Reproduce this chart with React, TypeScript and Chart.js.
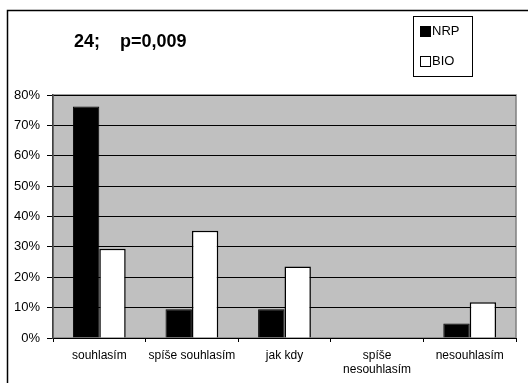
import React, { useEffect, useRef } from "react";
import { Chart, registerables } from "chart.js";

Chart.register(...registerables);

const categories: (string | string[])[] = ["souhlasím", "spíše souhlasím", "jak kdy", ["spíše", "nesouhlasím"], "nesouhlasím"];
const nrpValues = [0.762, 0.095, 0.095, 0, 0.048];
const bioValues = [0.294, 0.353, 0.235, 0, 0.118];
const seriesNames = ["NRP", "BIO"];
const titleText = "24;    p=0,009";

const FONT = "'Liberation Sans', Arial, sans-serif";

const decorPlugin = {
  id: "decor",
  beforeDraw(chart: any) {
    const { ctx, chartArea } = chart;
    ctx.save();
    ctx.fillStyle = "#ffffff";
    ctx.fillRect(0, 0, chart.width, chart.height);
    ctx.fillStyle = "#c0c0c0";
    ctx.fillRect(chartArea.left, chartArea.top, chartArea.right - chartArea.left, chartArea.bottom - chartArea.top);
    ctx.strokeStyle = "#808080";
    ctx.lineWidth = 1.5;
    ctx.strokeRect(chartArea.left, chartArea.top, chartArea.right - chartArea.left, chartArea.bottom - chartArea.top);
    // outer frame
    ctx.strokeStyle = "#000000";
    ctx.lineWidth = 1.5;
    ctx.beginPath();
    ctx.moveTo(7.5, chart.height + 2);
    ctx.lineTo(7.5, 10.5);
    ctx.lineTo(chart.width + 2, 10.5);
    ctx.stroke();
    ctx.restore();
  },
  afterDraw(chart: any) {
    const { ctx } = chart;
    ctx.save();
    // title
    ctx.fillStyle = "#000";
    ctx.font = `bold 18px ${FONT}`;
    ctx.textBaseline = "middle";
    ctx.textAlign = "left";
    ctx.fillText(titleText, 74, 42);
    // legend box
    ctx.strokeStyle = "#000";
    ctx.lineWidth = 1;
    ctx.strokeRect(413.5, 16.5, 59, 60);
    ctx.font = `13px ${FONT}`;
    const items = [
      { name: seriesNames[0], fill: "#000000", y: 31 },
      { name: seriesNames[1], fill: "#ffffff", y: 61 },
    ];
    for (const it of items) {
      ctx.fillStyle = it.fill;
      ctx.fillRect(420.5, it.y - 4.5, 10, 10);
      ctx.strokeStyle = "#000";
      ctx.strokeRect(420.5, it.y - 4.5, 10, 10);
      ctx.fillStyle = "#000";
      ctx.fillText(it.name, 432, it.y + 0.5);
    }
    ctx.restore();
  },
};

export default function App() {
  const ref = useRef<HTMLCanvasElement | null>(null);
  useEffect(() => {
    if (!ref.current) return;
    const chart = new Chart(ref.current, {
      type: "bar",
      data: {
        labels: categories,
        datasets: [
          { label: seriesNames[0], data: nrpValues, backgroundColor: "#000000", borderColor: "#000000", borderWidth: 1 },
          { label: seriesNames[1], data: bioValues, backgroundColor: "#ffffff", borderColor: "#000000", borderWidth: 1.5 },
        ],
      },
      options: {
        animation: false,
        responsive: true,
        maintainAspectRatio: false,
        layout: { padding: { top: 95, right: 12, left: 0, bottom: 0 } },
        plugins: { legend: { display: false }, tooltip: { enabled: false }, title: { display: false } },
        datasets: { bar: { categoryPercentage: 0.57, barPercentage: 1.0 } },
        scales: {
          x: {
            offset: true,
            grid: { offset: true, drawOnChartArea: false, drawTicks: true, tickLength: 4, color: "#000000" },
            border: { display: true, color: "#000000", width: 1 },
            ticks: { color: "#000000", font: { family: FONT, size: 12 }, padding: 6, maxRotation: 0, autoSkip: false },
            afterFit: (s: any) => { s.height = 45; },
          },
          y: {
            min: 0,
            max: 0.8,
            ticks: {
              stepSize: 0.1,
              color: "#000000",
              font: { family: FONT, size: 13 },
              padding: 7,
              callback: (v: any) => `${Math.round(Number(v) * 100)}%`,
            },
            grid: { color: "#000000", lineWidth: 1, tickLength: 6, drawTicks: true },
            border: { display: true, color: "#404040", width: 1.5 },
            afterFit: (s: any) => { s.width = 53; },
          },
        },
      },
      plugins: [decorPlugin],
    } as any);
    return () => chart.destroy();
  }, []);
  return (
    <div style={{ position: "fixed", left: 0, top: 0, width: 528, height: 383, background: "#fff" }}>
      <canvas ref={ref} />
    </div>
  );
}
